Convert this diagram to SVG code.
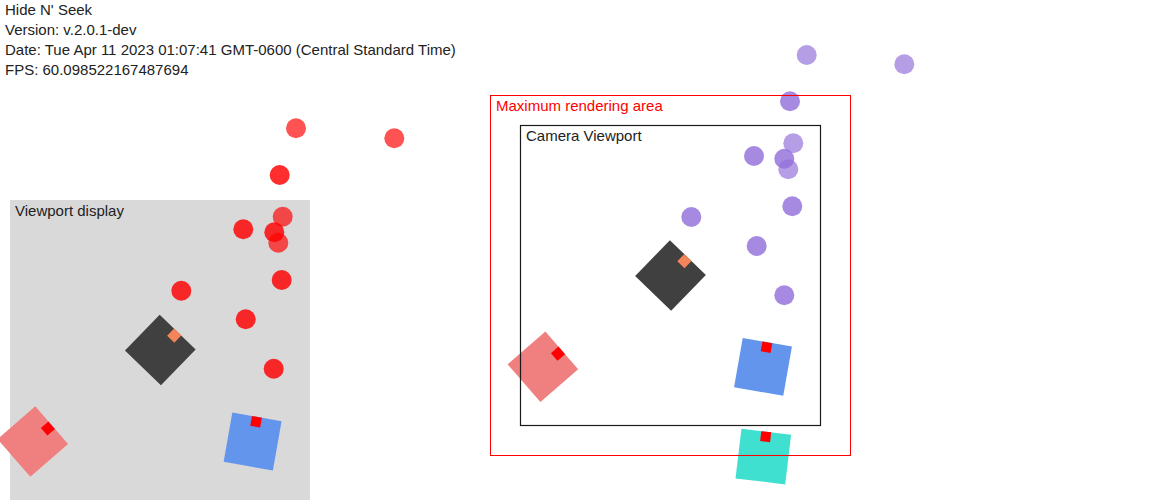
<svg xmlns="http://www.w3.org/2000/svg" width="1160" height="504" viewBox="0 0 1160 504">
<style>
.txt{font-family:"Liberation Sans",Arial,sans-serif;font-size:15px;fill:#222}
.rc{fill:#ff0000}
.pc{fill:#9370db}
.lt{opacity:0.68}
.dk{opacity:0.82}
.body{stroke:none}
.mk{fill:#ff0000}
.omk{fill:#f4845a}
</style>
<rect width="1160" height="504" fill="#ffffff"/>
<g id="info">
<text class="txt" x="5" y="15">Hide N' Seek</text>
<text class="txt" x="5" y="35">Version: v.2.0.1-dev</text>
<text class="txt" x="5" y="55">Date: Tue Apr 11 2023 01:07:41 GMT-0600 (Central Standard Time)</text>
<text class="txt" x="5" y="75">FPS: 60.098522167487694</text>
</g>
<g id="viewport-display">
<rect x="10" y="200" width="300" height="300" fill="#d9d9d9"/>
<text class="txt" x="15" y="216">Viewport display</text>
</g>
<g id="red-circles">
<circle class="rc lt" cx="296" cy="128.3" r="10"/>
<circle class="rc lt" cx="394.3" cy="138.3" r="10"/>
<circle class="rc dk" cx="279.7" cy="175" r="10"/>
<circle class="rc lt" cx="282.7" cy="216.7" r="10"/>
<circle class="rc dk" cx="243.3" cy="229.3" r="10"/>
<circle class="rc dk" cx="274.3" cy="232.3" r="10"/>
<circle class="rc lt" cx="278.3" cy="242.7" r="10"/>
<circle class="rc dk" cx="281.7" cy="280" r="10"/>
<circle class="rc dk" cx="181.3" cy="290.7" r="10"/>
<circle class="rc dk" cx="245.7" cy="319.3" r="10"/>
<circle class="rc dk" cx="273.7" cy="368.7" r="10"/>
</g>
<g id="display-seeker" transform="translate(160.3,350) rotate(44)">
<rect class="body" x="-25" y="-25" width="50" height="50" fill="#404040"/>
<rect class="omk" x="-5" y="-25" width="10" height="10"/>
</g>
<g id="display-salmon" transform="translate(32.8,441.6) rotate(49)">
<rect class="body" x="-25" y="-25" width="50" height="50" fill="#f08080"/>
<rect class="mk" x="-5" y="-25" width="10" height="10"/>
</g>
<g id="display-blue" transform="translate(252.6,441.5) rotate(10)">
<rect class="body" x="-25" y="-25" width="50" height="50" fill="#6495ed"/>
<rect class="mk" x="-5" y="-25" width="10" height="10"/>
</g>
<g id="purple-circles">
<circle class="pc lt" cx="806.7" cy="55" r="10"/>
<circle class="pc lt" cx="904.3" cy="64.3" r="10"/>
<circle class="pc dk" cx="790" cy="101.3" r="10"/>
<circle class="pc lt" cx="793.3" cy="143.3" r="10"/>
<circle class="pc dk" cx="754" cy="156" r="10"/>
<circle class="pc dk" cx="784.3" cy="158.7" r="10"/>
<circle class="pc lt" cx="788.3" cy="169.3" r="10"/>
<circle class="pc dk" cx="792.3" cy="206.3" r="10"/>
<circle class="pc dk" cx="691.3" cy="217" r="10"/>
<circle class="pc dk" cx="756.7" cy="246" r="10"/>
<circle class="pc dk" cx="784.3" cy="295.3" r="10"/>
</g>
<g id="seeker" transform="translate(670.5,275.5) rotate(44)">
<rect class="body" x="-25" y="-25" width="50" height="50" fill="#404040"/>
<rect class="omk" x="-5" y="-25" width="10" height="10"/>
</g>
<g id="salmon" transform="translate(542.9,366.8) rotate(49)">
<rect class="body" x="-25" y="-25" width="50" height="50" fill="#f08080"/>
<rect class="mk" x="-5" y="-25" width="10" height="10"/>
</g>
<g id="blue" transform="translate(763,366.9) rotate(10)">
<rect class="body" x="-25" y="-25" width="50" height="50" fill="#6495ed"/>
<rect class="mk" x="-5" y="-25" width="10" height="10"/>
</g>
<g id="turquoise" transform="translate(763.3,456.6) rotate(6.8)">
<rect class="body" x="-25" y="-25" width="50" height="50" fill="#40e0d0"/>
<rect class="mk" x="-5" y="-25" width="10" height="10"/>
</g>
<g id="max-render-area">
<rect x="490.5" y="95.5" width="360" height="360" fill="none" stroke="#ff0000" stroke-width="1"/>
<text x="496" y="111" style="font-family:'Liberation Sans',Arial,sans-serif;font-size:15px;fill:#ff0000">Maximum rendering area</text>
</g>
<g id="camera-viewport">
<rect x="520.5" y="125.5" width="300" height="300" fill="none" stroke="#1a1a1a" stroke-width="1.2"/>
<text class="txt" x="526" y="141">Camera Viewport</text>
</g>
<g id="connectors"/>
</svg>
